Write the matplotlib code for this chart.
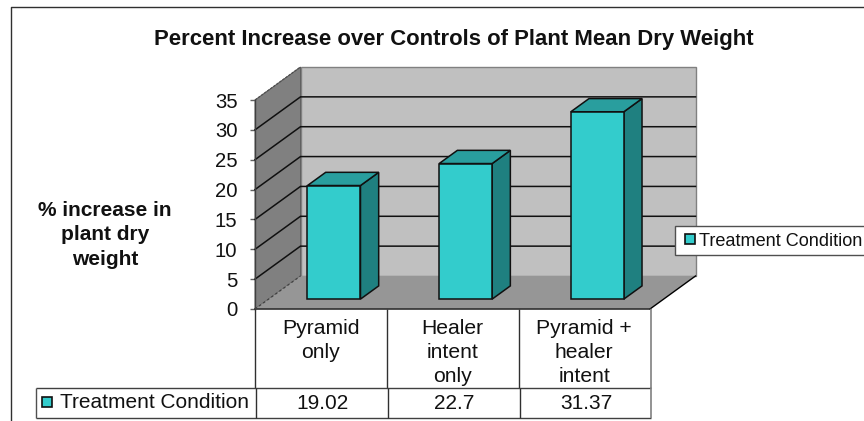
import matplotlib
matplotlib.use("Agg")
import matplotlib.pyplot as plt
from matplotlib.patches import Polygon, Rectangle
from matplotlib.lines import Line2D

plt.rcParams['font.family'] = ['Liberation Sans', 'DejaVu Sans']

title = "Percent Increase over Controls of Plant Mean Dry Weight"
ylabel = "% increase in\nplant dry\nweight"
categories = ["Pyramid\nonly", "Healer\nintent\nonly", "Pyramid +\nhealer\nintent"]
series_name = "Treatment Condition"
values = [19.02, 22.7, 31.37]
value_labels = ["19.02", "22.7", "31.37"]
yticks = [0, 5, 10, 15, 20, 25, 30, 35]

W, H = 864, 421
fig = plt.figure(figsize=(W / 100, H / 100), dpi=100, facecolor='white')

# front plane of the 3-D box
L, R, B, T = 255, 650, 309, 100
ax = fig.add_axes([L / W, 1 - B / H, (R - L) / W, (B - T) / H])
ax.set_xlim(0, 3)
ax.set_ylim(0, 35)
ax.patch.set_visible(False)
for s in ('top', 'right', 'bottom'):
    ax.spines[s].set_visible(False)
ax.spines['left'].set_color('#404040')
ax.spines['left'].set_linewidth(1.0)

# depth vector of the box, in data units
DX = 45.5 / ((R - L) / 3)
DY = 33 / ((B - T) / 35)


def P(x, y, d=0.0):
    return (x + DX * d, y + DY * d)


def poly(pts, fc, ec='none', lw=0.0, z=1):
    ax.add_patch(Polygon(pts, closed=True, facecolor=fc, edgecolor=ec, linewidth=lw,
                         zorder=z, clip_on=False, joinstyle='miter'))


ymax = yticks[-1]
poly([P(0, 0, 1), P(3, 0, 1), P(3, ymax, 1), P(0, ymax, 1)], '#C0C0C0', '#808080', 1.0, 1)
poly([P(0, 0, 0), P(0, 0, 1), P(0, ymax, 1), P(0, ymax, 0)], '#808080', '#505050', 0.6, 1)
poly([P(0, 0, 0), P(3, 0, 0), P(3, 0, 1), P(0, 0, 1)], '#969696', 'none', 0, 1)

# floor edges
ax.plot(*zip(P(3, 0, 0), P(3, 0, 1)), color='black', lw=1.0, zorder=2, clip_on=False)
ax.plot(*zip(P(0, 0, 0), P(3, 0, 0)), color='#303030', lw=1.2, zorder=2, clip_on=False)
ax.plot(*zip(P(0, 0, 0), P(0, 0, 1)), color='#404040', lw=0.9, ls=(0, (2, 2)), zorder=2, clip_on=False)

# gridlines on side and back walls
for v in yticks[1:-1]:
    ax.plot(*zip(P(0, v, 0), P(0, v, 1), P(3, v, 1)), color='#101010', lw=1.1, zorder=2,
            clip_on=False, solid_joinstyle='miter')
ax.plot(*zip(P(0, ymax, 0), P(0, ymax, 1)), color='#505050', lw=0.9, ls=(0, (2, 1)), zorder=2, clip_on=False)

# bars
BAR_W = 0.4025
D0, D1 = 0.30, 0.70
for i, v in enumerate(values):
    x0 = i + 0.295
    x1 = x0 + BAR_W
    ec, lw = '#101010', 1.1
    poly([P(x1, 0, D0), P(x1, 0, D1), P(x1, v, D1), P(x1, v, D0)], '#1F8080', ec, lw, 3)
    poly([P(x0, v, D0), P(x1, v, D0), P(x1, v, D1), P(x0, v, D1)], '#299E9E', ec, lw, 3)
    poly([P(x0, 0, D0), P(x1, 0, D0), P(x1, v, D0), P(x0, v, D0)], '#33CCCC', ec, lw, 4)

# axes ticks
ax.set_yticks(yticks)
ax.set_yticklabels([str(t) for t in yticks])
ax.tick_params(axis='y', length=3.6, width=1.0, color='#606060', pad=9, labelsize=14.6, labelcolor='#111111')
ax.set_xticks([0.5, 1.5, 2.5])
ax.set_xticklabels(categories, linespacing=1.33)
ax.tick_params(axis='x', length=0, pad=7, labelsize=15.2, labelcolor='#111111')


def fx(px):
    return px / W


def fy(px):
    return 1 - px / H


def line(xs, ys, color='#404040', lw=1.0):
    fig.add_artist(Line2D([fx(x) for x in xs], [fy(y) for y in ys], color=color, linewidth=lw,
                          solid_capstyle='butt'))


# chart outer border
line([10.5, 10.5, 864], [421, 6.5, 6.5], '#303030', 1.0)

# category cells
for x in (255, 387, 519):
    line([x, x], [309, 388], '#303030', 1.0)
line([650.5, 650.5], [309, 388], '#808080', 1.2)

# data table row
line([36, 651], [388, 388], '#404040', 1.0)
line([36, 651], [418, 418], '#404040', 1.0)
line([36, 36], [388, 418], '#505050', 1.0)
for x in (256, 388, 520):
    line([x, x], [388, 418], '#303030', 1.0)
line([651, 651], [388, 418], '#808080', 1.2)
fig.add_artist(Rectangle((fx(42), fy(407)), 10 / W, 10 / H, transform=fig.transFigure,
                         facecolor='#33CCCC', edgecolor='#101010', linewidth=1.2))
fig.text(fx(60), fy(400.5), series_name, fontsize=15.0, color='#111111', ha='left', va='center_baseline')
for cx, label in zip((322, 454, 586), value_labels):
    fig.text(fx(cx), fy(401.5), label, fontsize=15.0, color='#111111', ha='center', va='center_baseline')

# title and y label
fig.text(fx(453.5), fy(40), title, fontsize=15.9, fontweight='bold', color='#111111', ha='center', va='center')
fig.text(fx(105), fy(235), ylabel, fontsize=15.0, fontweight='bold', color='#111111', ha='center', va='center',
         linespacing=1.36)

# legend
fig.add_artist(Rectangle((fx(675), fy(255)), (W - 675 + 20) / W, 29 / H, transform=fig.transFigure,
                         facecolor='white', edgecolor='#505050', linewidth=1.0, zorder=5))
fig.add_artist(Rectangle((fx(684.5), fy(244)), 10 / W, 10 / H, transform=fig.transFigure,
                         facecolor='#33CCCC', edgecolor='#101010', linewidth=1.2, zorder=6))
leg = fig.text(fx(699), fy(239.5), series_name, fontsize=13.1, color='#111111', ha='left', va='center_baseline', zorder=6)

fig.savefig('out.png', dpi=100, facecolor='white')
